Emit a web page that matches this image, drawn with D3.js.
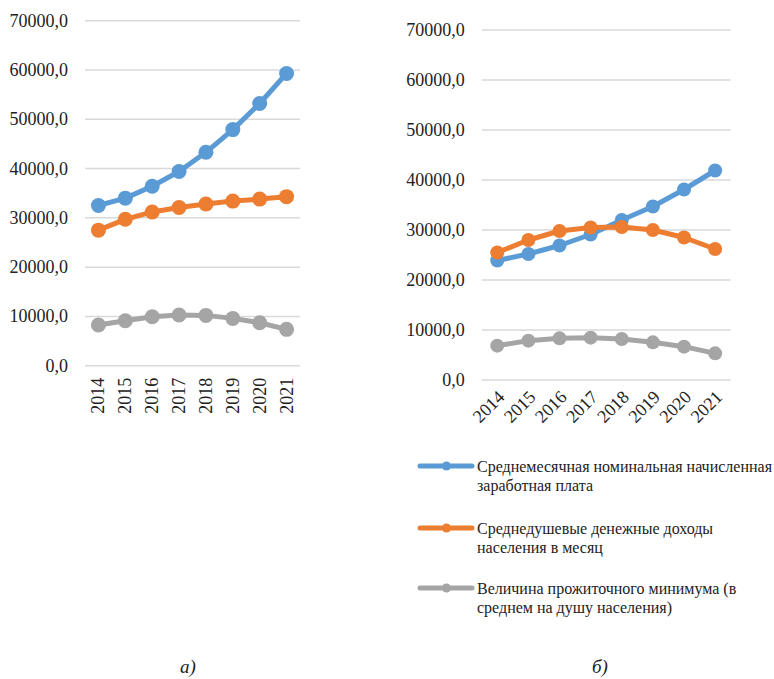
<!DOCTYPE html>
<html><head><meta charset="utf-8"><script src="https://cdn.jsdelivr.net/npm/d3@7"></script></head>
<body style="margin:0">
<svg id="s" width="774" height="679"></svg>
<script>
// data
const years = ["2014", "2015", "2016", "2017", "2018", "2019", "2020", "2021"];
const yTicks = [0, 10000, 20000, 30000, 40000, 50000, 60000, 70000];

// chart а)
const wageA = [32500, 34000, 36400, 39400, 43300, 47900, 53200, 59300];
const incomeA = [27500, 29700, 31200, 32100, 32800, 33400, 33800, 34300];
const minimumA = [8250, 9130, 9940, 10280, 10210, 9600, 8720, 7380];

// chart б)
const wageB = [23900, 25200, 26900, 29100, 32000, 34700, 38100, 41900];
const incomeB = [25500, 28000, 29800, 30500, 30600, 30000, 28500, 26200];
const minimumB = [6870, 7870, 8330, 8470, 8200, 7530, 6670, 5330];

const seriesNames = [
  ["Среднемесячная номинальная начисленная", "заработная плата"],
  ["Среднедушевые денежные доходы", "населения в месяц"],
  ["Величина прожиточного минимума (в", "среднем на душу населения)"]
];
const colors = ["#5B9BD5", "#ED7D31", "#A5A5A5"];
const captions = ["а)", "б)"];

const FONT = "'Liberation Serif', monospace";

const svg = d3.select("#s");

const fmt = d => d3.format(".1f")(d).replace(".", ",");

function drawChart(opts) {
  const x = d3.scaleBand()
    .domain(years)
    .range([opts.left, opts.right]);

  const y = d3.scaleLinear()
    .domain([0, 70000])
    .range([opts.bottom, opts.top]);

  // gridlines
  svg.append("g")
    .selectAll("line")
    .data(yTicks)
    .join("line")
    .attr("x1", opts.left)
    .attr("x2", opts.right)
    .attr("y1", d => y(d))
    .attr("y2", d => y(d))
    .attr("stroke", "#D9D9D9")
    .attr("stroke-width", 1.5);

  // y tick labels
  svg.selectAll(null)
    .data(yTicks)
    .join("text")
    .attr("x", opts.left - 17)
    .attr("y", d => y(d) + 6)
    .attr("text-anchor", "end")
    .attr("font-family", FONT)
    .attr("font-size", 18)
    .attr("fill", "#222")
    .text(fmt);

  // x labels
  svg.selectAll(null)
    .data(years)
    .join("text")
    .attr("text-anchor", "end")
    .attr("font-family", FONT)
    .attr("font-size", 18)
    .attr("fill", "#222")
    .attr("transform", d => `translate(${x(d) + x.bandwidth() / 2 + opts.labelDx},${opts.bottom + opts.labelDy}) rotate(${opts.rotate}) translate(0,6)`)
    .text(d => d);

  const line = d3.line()
    .x((d, i) => x(years[i]) + x.bandwidth() / 2)
    .y(d => y(d));

  opts.series.forEach((s, k) => {
    svg.append("path")
      .datum(s)
      .attr("fill", "none")
      .attr("stroke", colors[k])
      .attr("stroke-width", 5)
      .attr("stroke-linejoin", "round")
      .attr("d", line);

    svg.append("g")
      .selectAll("circle")
      .data(s)
      .join("circle")
      .attr("cx", (d, i) => x(years[i]) + x.bandwidth() / 2)
      .attr("cy", d => y(d))
      .attr("r", opts.r)
      .attr("fill", colors[k]);
  });

  svg.append("text")
    .attr("x", opts.captionX)
    .attr("y", 673)
    .attr("text-anchor", "middle")
    .attr("font-family", FONT)
    .attr("font-size", 19)
    .attr("font-style", "italic")
    .attr("fill", "#222")
    .text(opts.caption);
}

drawChart({
  left: 85, right: 300, top: 20.7, bottom: 365.7,
  series: [wageA, incomeA, minimumA],
  rotate: -90, labelDx: 0, labelDy: 12, r: 7.5,
  caption: captions[0], captionX: 188
});

drawChart({
  left: 481.7, right: 730.7, top: 30, bottom: 380,
  series: [wageB, incomeB, minimumB],
  rotate: -45, labelDx: 4, labelDy: 14, r: 7,
  caption: captions[1], captionX: 600
});

// legend
const legendY = [466, 528, 588];

svg.selectAll(null)
  .data(seriesNames)
  .join("line")
  .attr("x1", 420)
  .attr("x2", 472)
  .attr("y1", (d, i) => legendY[i])
  .attr("y2", (d, i) => legendY[i])
  .attr("stroke", (d, i) => colors[i])
  .attr("stroke-width", 5)
  .attr("stroke-linecap", "round");

svg.selectAll(null)
  .data(seriesNames)
  .join("circle")
  .attr("cx", 446.5)
  .attr("cy", (d, i) => legendY[i])
  .attr("r", 4.5)
  .attr("fill", (d, i) => colors[i]);

// one text element per legend line
const legendLines = seriesNames.flatMap((lines, i) => lines.map((t, j) => ({ t, y: legendY[i] + j * 19 })));
svg.selectAll(null)
  .data(legendLines)
  .join("text")
  .attr("x", 477)
  .attr("y", d => d.y + 5.5)
  .attr("font-family", FONT)
  .attr("font-size", 16)
  .attr("fill", "#222")
  .text(d => d.t);
</script></body></html>
